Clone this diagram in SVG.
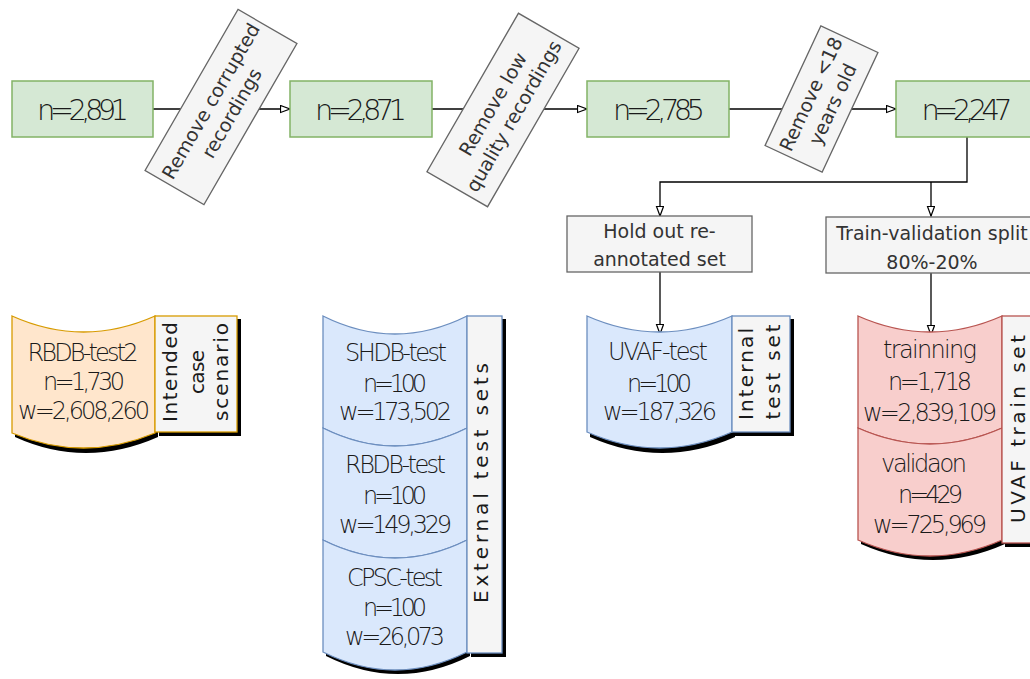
<svg xmlns="http://www.w3.org/2000/svg" width="1030" height="679" viewBox="0 0 1030 679">
<defs>
<marker id="arr" markerUnits="userSpaceOnUse" markerWidth="12" markerHeight="10" refX="10" refY="4" orient="auto">
<path d="M0.5,0.5 L10,4 L0.5,7.5 Z" fill="#ffffff" stroke="#000000" stroke-width="1.2"/>
</marker>
<style>
.green{fill:#d5e8d4;stroke:#82b366;stroke-width:1.5}
.gray{fill:#f5f5f5;stroke:#666666;stroke-width:1.3}
.lbl{font-family:"DejaVu Sans",Verdana,sans-serif;font-size:19px;fill:#333333;text-anchor:middle}
.num{font-family:"DejaVu Sans",sans-serif;font-weight:200;font-size:29px;fill:#1a1a1a;text-anchor:middle}
.doc{font-family:"DejaVu Sans",sans-serif;font-weight:200;font-size:24px;fill:#1a1a1a;text-anchor:middle}
.side{font-family:"DejaVu Sans",sans-serif;font-size:20px;fill:#1a1a1a;text-anchor:middle}
.conn{fill:none;stroke:#000000;stroke-width:1.3}
.shadow{fill:#000000;stroke:none}
.orange{fill:#ffe6cc;stroke:#d79b00;stroke-width:1.3}
.sideO{fill:#f5f5f5;stroke:#d79b00;stroke-width:1.3}
.blue{fill:#dae8fc;stroke:#6c8ebf;stroke-width:1.3}
.sideB{fill:#f5f5f5;stroke:#6c8ebf;stroke-width:1.3}
.red{fill:#f8cecc;stroke:#b85450;stroke-width:1.3}
.sideR{fill:#f5f5f5;stroke:#b85450;stroke-width:1.3}
</style>
</defs>
<rect width="1030" height="679" fill="#ffffff"/>

<g id="connectors">
<line class="conn" x1="153" y1="109" x2="290" y2="109" marker-end="url(#arr)"/>
<line class="conn" x1="432" y1="109" x2="587" y2="109" marker-end="url(#arr)"/>
<line class="conn" x1="729" y1="109" x2="896" y2="109" marker-end="url(#arr)"/>
<path class="conn" d="M967,137 L967,182 L660,182 L660,216" marker-end="url(#arr)"/>
<path class="conn" d="M931,182 L931,216" marker-end="url(#arr)"/>
<path class="conn" d="M660,272 L660,334" marker-end="url(#arr)"/>
<path class="conn" d="M931,273 L931,335" marker-end="url(#arr)"/>
</g>

<g id="n2891">
<rect class="green" x="12" y="81" width="141" height="56"/>
<text class="num" x="83" y="120" textLength="92" lengthAdjust="spacing">n=2,891</text>
</g>
<g id="n2871">
<rect class="green" x="290" y="81" width="142" height="56"/>
<text class="num" x="361" y="120" textLength="92" lengthAdjust="spacing">n=2,871</text>
</g>
<g id="n2785">
<rect class="green" x="587" y="81" width="142" height="56"/>
<text class="num" x="659" y="120" textLength="92" lengthAdjust="spacing">n=2,785</text>
</g>
<g id="n2247">
<rect class="green" x="896" y="81" width="142" height="56"/>
<text class="num" x="967" y="120" textLength="91" lengthAdjust="spacing">n=2,247</text>
</g>

<g id="remove-corrupted" transform="translate(221,107) rotate(-60)">
<rect class="gray" x="-93" y="-34" width="186" height="68"/>
<text class="lbl" x="0" y="-5">Remove corrupted</text>
<text class="lbl" x="0" y="19">recordings</text>
</g>
<g id="remove-low" transform="translate(503,110) rotate(-60)">
<rect class="gray" x="-91.5" y="-35" width="183" height="70"/>
<text class="lbl" x="0" y="-5">Remove low</text>
<text class="lbl" x="0" y="19">quality recordings</text>
</g>
<g id="remove-age" transform="translate(821.5,99) rotate(-65)">
<rect class="gray" x="-66" y="-31.5" width="132" height="63"/>
<text class="lbl" x="0" y="-5">Remove &lt;18</text>
<text class="lbl" x="0" y="19">years old</text>
</g>

<g id="hold-out">
<rect class="gray" x="567" y="216" width="185" height="56"/>
<text class="lbl" x="659.5" y="238">Hold out re-</text>
<text class="lbl" x="659.5" y="266">annotated set</text>
</g>
<g id="train-val-split">
<rect class="gray" x="826" y="217" width="212" height="56"/>
<text class="lbl" x="932" y="240">Train-validation split</text>
<text class="lbl" x="932" y="269">80%-20%</text>
</g>

<g id="rbdb-test2">
<path class="shadow" d="M15,320 Q85.5,352 158,320 L158,437 Q85.5,469 15,437 Z"/>
<rect class="shadow" x="159" y="319" width="82" height="117"/>
<path class="orange" d="M12,316 Q83.5,348 155,316 L155,433 Q83.5,463 12,433 Z"/>
<rect class="sideO" x="155" y="316" width="82" height="116"/>
<text class="doc" x="83" y="361" textLength="111" lengthAdjust="spacing">RBDB-test2</text>
<text class="doc" x="84" y="390" textLength="82" lengthAdjust="spacing">n=1,730</text>
<text class="doc" x="84" y="419" textLength="132" lengthAdjust="spacing">w=2,608,260</text>
<text class="side" transform="translate(177,372) rotate(-90)" textLength="100" lengthAdjust="spacing">Intended</text>
<text class="side" transform="translate(204,372) rotate(-90)" textLength="44" lengthAdjust="spacing">case</text>
<text class="side" transform="translate(228,372) rotate(-90)" textLength="98" lengthAdjust="spacing">scenario</text>
</g>

<g id="external-test-sets">
<path class="shadow" d="M326,320 Q398,356 470,320 L470,656 Q398,692 326,656 Z"/>
<rect class="shadow" x="471" y="319" width="35" height="338"/>
<path class="blue" d="M323,316 Q395,352 467,316 L467,428 Q395,464 323,428 Z"/>
<path class="blue" d="M323,428 Q395,464 467,428 L467,540 Q395,576 323,540 Z"/>
<path class="blue" d="M323,540 Q395,576 467,540 L467,652 Q395,688 323,652 Z"/>
<rect class="sideB" x="467" y="316" width="35" height="337"/>
<text class="doc" x="396" y="361" textLength="102" lengthAdjust="spacing">SHDB-test</text>
<text class="doc" x="395" y="392" textLength="64" lengthAdjust="spacing">n=100</text>
<text class="doc" x="395.5" y="420" textLength="113" lengthAdjust="spacing">w=173,502</text>
<text class="doc" x="395.5" y="473" textLength="101" lengthAdjust="spacing">RBDB-test</text>
<text class="doc" x="395" y="504" textLength="64" lengthAdjust="spacing">n=100</text>
<text class="doc" x="395.5" y="533" textLength="113" lengthAdjust="spacing">w=149,329</text>
<text class="doc" x="395" y="586" textLength="96" lengthAdjust="spacing">CPSC-test</text>
<text class="doc" x="395" y="616" textLength="64" lengthAdjust="spacing">n=100</text>
<text class="doc" x="395" y="645" textLength="100" lengthAdjust="spacing">w=26,073</text>
<text class="side" transform="translate(488,483) rotate(-90)" textLength="240" lengthAdjust="spacing">External test sets</text>
</g>

<g id="uvaf-test">
<path class="shadow" d="M590,320 Q662,352 735,320 L735,437 Q662,469 590,437 Z"/>
<rect class="shadow" x="735" y="319" width="59" height="117"/>
<path class="blue" d="M587,316 Q659.5,348 732,316 L732,432 Q659.5,464 587,432 Z"/>
<rect class="sideB" x="732" y="316" width="58" height="116"/>
<text class="doc" x="658" y="360" textLength="100" lengthAdjust="spacing">UVAF-test</text>
<text class="doc" x="659.5" y="392" textLength="65" lengthAdjust="spacing">n=100</text>
<text class="doc" x="660" y="420" textLength="114" lengthAdjust="spacing">w=187,326</text>
<text class="side" transform="translate(753,374) rotate(-90)" textLength="92" lengthAdjust="spacing">Internal</text>
<text class="side" transform="translate(780,372) rotate(-90)" textLength="95" lengthAdjust="spacing">test set</text>
</g>

<g id="uvaf-train-set">
<path class="shadow" d="M861,320 Q933,352 1005,320 L1005,544 Q933,576 861,544 Z"/>
<rect class="shadow" x="1005" y="319" width="40" height="228"/>
<path class="red" d="M858,316 Q930,348 1002,316 L1002,428 Q930,460 858,428 Z"/>
<path class="red" d="M858,428 Q930,460 1002,428 L1002,540 Q930,572 858,540 Z"/>
<rect class="sideR" x="1002" y="316" width="40" height="227"/>
<text class="doc" x="930" y="358" textLength="94" lengthAdjust="spacing">trainning</text>
<text class="doc" x="930" y="390" textLength="84" lengthAdjust="spacing">n=1,718</text>
<text class="doc" x="930" y="421" textLength="134" lengthAdjust="spacing">w=2,839,109</text>
<text class="doc" x="924" y="472" textLength="86" lengthAdjust="spacing">validaon</text>
<text class="doc" x="930.5" y="503" textLength="65" lengthAdjust="spacing">n=429</text>
<text class="doc" x="930" y="533" textLength="114" lengthAdjust="spacing">w=725,969</text>
<text class="side" transform="translate(1025,429) rotate(-90)" textLength="188" lengthAdjust="spacing">UVAF train set</text>
</g>
</svg>
